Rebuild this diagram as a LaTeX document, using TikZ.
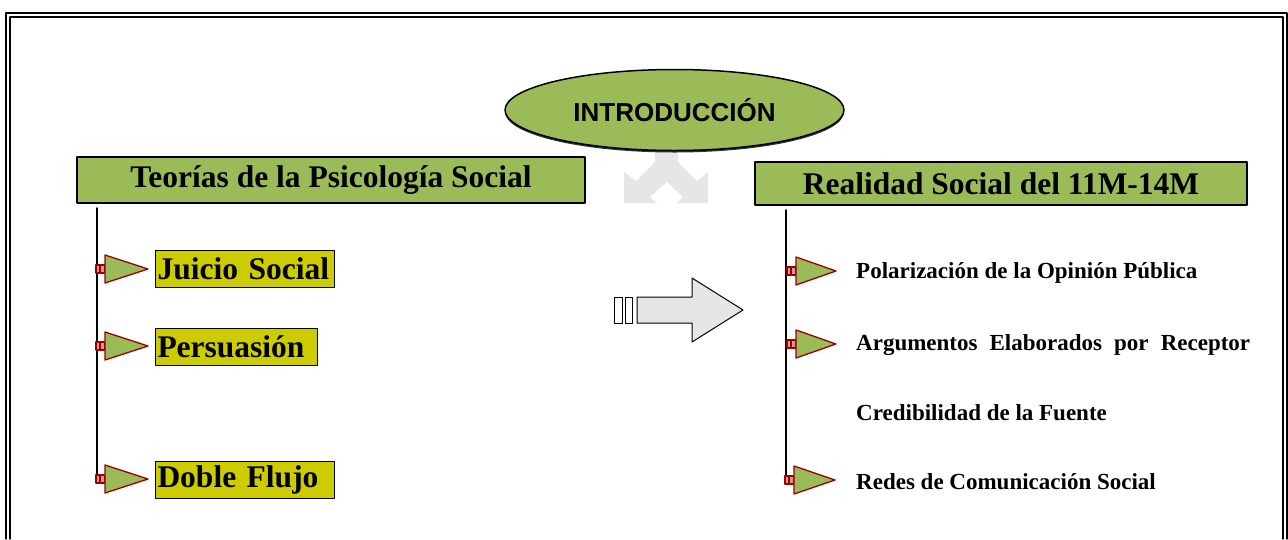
\documentclass[tikz,border=0pt]{standalone}
\usepackage{fontspec}
\setmainfont{Liberation Serif}
\newfontfamily\arialfont{Liberation Sans}
\usetikzlibrary{shapes.geometric}

\definecolor{verdeoliva}{RGB}{155,187,89}
\definecolor{amarillo}{RGB}{204,204,0}
\definecolor{rojooscuro}{RGB}{153,0,0}
\definecolor{grisclaro}{RGB}{230,230,230}

\begin{document}
\begin{tikzpicture}[x=1pt, y=-1pt, line cap = round, line join = round]
\tikzstyle{titulo}=[draw=black, line width=2pt, fill=verdeoliva, inner sep=0pt, font=\bfseries\fontsize{31.5}{36}\selectfont]
\tikzstyle{concepto}=[draw=black, line width=1pt, fill=amarillo, inner xsep=2pt, inner ysep=0pt, minimum height=37pt, align=left, anchor=west, font=\bfseries\fontsize{31.5}{36}\selectfont]
\tikzstyle{aspecto}=[anchor=west, inner sep=0pt, font=\bfseries\fontsize{23}{28}\selectfont]
\tikzstyle{bandera}=[draw=rojooscuro, line width=1.3pt, fill=verdeoliva]
\tikzstyle{tope}=[draw=rojooscuro, line width=1.3pt, fill=rojooscuro!40]
\tikzstyle{rama}=[line width=1.5pt, draw=black]
\useasboundingbox (0,0) rectangle (1288,539);

% marco doble
\draw[line width=1.3pt] (6,539) -- (6,13) -- (1287,13) -- (1287,539);
\draw[line width=1.3pt] (10,539) -- (10,17) -- (1283,17) -- (1283,539);

% flecha gris bajo la elipse
\fill[grisclaro] (655,150) -- (678,150) -- (678,162) -- (697,181) -- (708,172) -- (708,203) -- (677,203) -- (683,197) -- (667,182) -- (650,197) -- (657,203) -- (624,203) -- (624,172) -- (636,181) -- (655,162) -- cycle;

% sombra de la elipse
\fill[black!80] (674.5,112) ellipse (169.5pt and 40.5pt);
\node[ellipse, draw=black, line width=1.5pt, fill=verdeoliva, minimum width=339pt, minimum height=81pt, inner sep=0pt, font=\arialfont\bfseries\fontsize{26}{30}\selectfont] (intro) at (674.5,110) {INTRODUCCIÓN};

\node[titulo, minimum width=508pt, minimum height=46pt] (teorias) at (331,180) {Teorías de la Psicología Social};
\node[titulo, minimum width=492pt, minimum height=43pt] (realidad) at (1001,183.5) {Realidad Social del 11M-14M};

% conceptos
\node[concepto, text width=175pt] (juicio) at (155,268.5) {Juicio Social};
\node[concepto, text width=158pt] (persuasion) at (155,346.5) {Persuasión};
\node[concepto, text width=175pt] (flujo) at (155,479.5) {Doble Flujo};

% aspectos
\node[aspecto] (polarizacion) at (856,273) {Polarización de la Opinión Pública};
\node[aspecto] (argumentos) at (856,345) {\makebox[394pt][s]{Argumentos Elaborados por Receptor}};
\node[aspecto] (credibilidad) at (856,413) {Credibilidad de la Fuente};
\node[aspecto] (redes) at (856,482) {Redes de Comunicación Social};

% ramas
\coordinate (finizq) at (97,475);
\coordinate (finder) at (786,483);
\draw[rama] (teorias.south -| finizq) ++(0,4) -- (finizq);
\draw[rama] (realidad.south -| finder) ++(0,4) -- (finder);

\foreach \x/\y/\w in {96/269/43, 96/346/43, 96/479/43, 787/271/40, 787/344/40, 785/480/41} {
  \draw[tope] (\x,\y-4) rectangle ++(4,8);
  \draw[tope] (\x+4.5,\y-4) rectangle ++(4,8);
  \draw[bandera] (\x+9,\y-14) -- (\x+9,\y+14) -- (\x+9+\w,\y) -- cycle;
}

% flecha grande
\draw[fill=white, line width=1pt] (614,297) rectangle (622,323);
\draw[fill=white, line width=1pt] (625,297) rectangle (632,323);
\draw[fill=grisclaro, line width=1pt] (637,297) -- (692,297) -- (692,278) -- (743,310) -- (692,342) -- (692,323) -- (637,323) -- cycle;
\end{tikzpicture}
\end{document}
